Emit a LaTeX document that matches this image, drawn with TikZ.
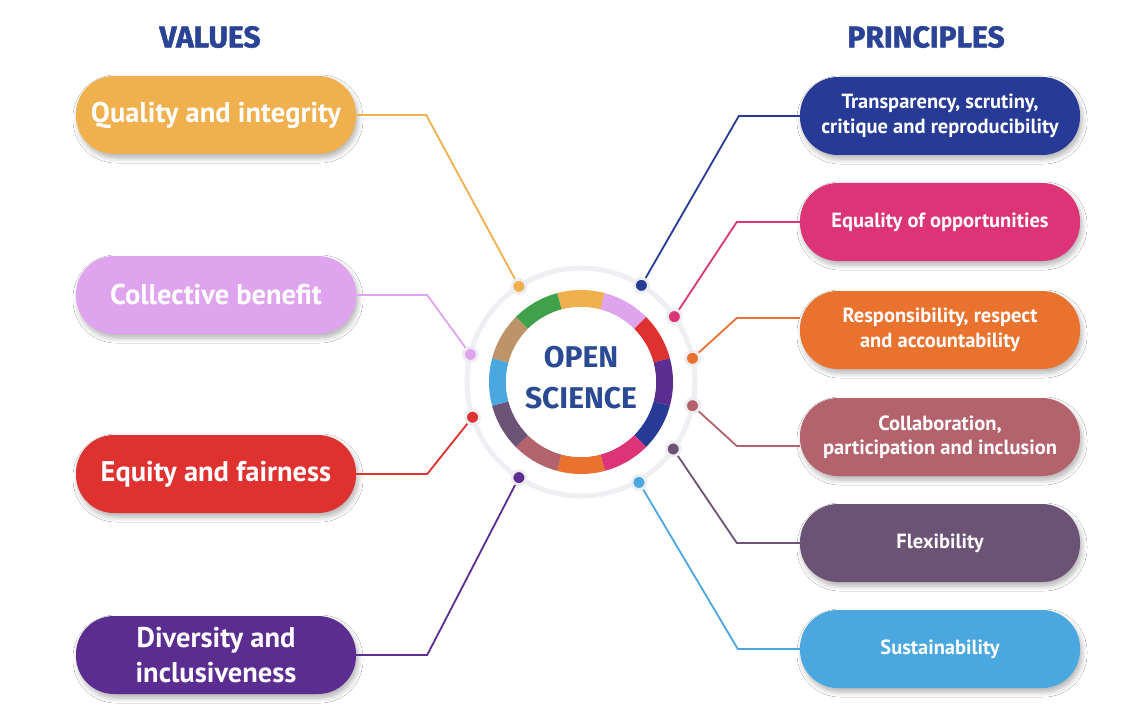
\documentclass[tikz,border=0pt]{standalone}
\usepackage{fontspec}
\setmainfont{PT Sans}
\newfontfamily\headfont{Fira Sans}
\newfontfamily\heavyfont{Fira Sans}[FakeBold=1.6]
\usetikzlibrary{shadows.blur}
\definecolor{cyel}{HTML}{F0B04E}
\definecolor{clil}{HTML}{DEA5EE}
\definecolor{cred}{HTML}{E03131}
\definecolor{cpur}{HTML}{5C2D91}
\definecolor{cdbl}{HTML}{263A96}
\definecolor{cpnk}{HTML}{DD3477}
\definecolor{corg}{HTML}{E9722F}
\definecolor{cmau}{HTML}{B4636D}
\definecolor{cpgr}{HTML}{6C5274}
\definecolor{clbl}{HTML}{4AA7DF}
\definecolor{ctan}{HTML}{BE9368}
\definecolor{cgrn}{HTML}{3FA24B}
\definecolor{headblue}{HTML}{2B4396}
\definecolor{osblue}{HTML}{2A4A94}
\definecolor{haloc}{HTML}{EDEDF1}
\definecolor{ringc}{HTML}{EFEFF3}
\tikzset{
 pill/.style={rectangle, rounded corners=38pt, minimum width=280pt, minimum height=78pt,
   text=white, align=center, inner sep=0pt,
   blur shadow={shadow xshift=2pt, shadow yshift=-4pt, shadow blur steps=6, shadow opacity=30, shadow blur radius=5pt}},
 lbox/.style={pill, font=\fontsize{28.5}{35}\selectfont\bfseries},
 rbox/.style={pill, font=\fontsize{20.5}{24.5}\selectfont\bfseries},
 conn/.style={line width=1.8pt},
 dot/.style={circle, minimum size=14pt, inner sep=0pt, draw=haloc, line width=2.8pt},
 head/.style={font=\heavyfont\fontsize{30}{32}\selectfont\bfseries, text=headblue},
}
\begin{document}
\begin{tikzpicture}[x=1pt,y=1pt]
\useasboundingbox[fill=white] (0,0) rectangle (1124,-722);
\coordinate (C) at (581,-382);
% headings
\node[head] (hv) at (210,-37) {VALUES};
\node[head] (hp) at (926,-37) {PRINCIPLES};
% light ring
\draw[ringc, line width=5pt] (C) circle[radius=114];
% colored ring
\begin{scope}[shift={(581,-382)}]
\foreach \c [count=\i from 0] in {cyel,clil,cred,cpur,cdbl,cpnk,corg,cmau,cpgr,clbl,ctan,cgrn}{
  \pgfmathsetmacro{\a}{90-30*\i}
  \fill[\c] (\a+15:92) arc[start angle=\a+15, end angle=\a-15, radius=92]
     -- (\a-15:75) arc[start angle=\a-15, end angle=\a+15, radius=75] -- cycle;
}
\end{scope}
\fill[white] (C) circle[radius=75];
\node[font=\headfont\bfseries\fontsize{30}{41}\selectfont, text=osblue, align=center] (os) at (581,-378) {OPEN\\SCIENCE};
% dots
\path (C) ++(123:114) node[dot, fill=cyel] (d1) {};
\path (C) ++(166:114) node[dot, fill=clil] (d2) {};
\path (C) ++(198:114) node[dot, fill=cred] (d3) {};
\path (C) ++(237:114) node[dot, fill=cpur] (d4) {};
\path (C) ++(58:114) node[dot, fill=cdbl] (d5) {};
\path (C) ++(35:114) node[dot, fill=cpnk] (d6) {};
\path (C) ++(12:114) node[dot, fill=corg] (d7) {};
\path (C) ++(-12:114) node[dot, fill=cmau] (d8) {};
\path (C) ++(-36:114) node[dot, fill=cpgr] (d9) {};
\path (C) ++(-60:116) node[dot, fill=clbl] (d10) {};
% left boxes
\node[lbox, fill=cyel] (vq) at (216,-115) {Quality and integrity};
\node[lbox, fill=clil] (vc) at (216,-295) {Collective benefit};
\node[lbox, fill=cred] (ve) at (216,-474) {Equity and fairness};
\node[lbox, fill=cpur] (vd) at (216,-655) {Diversity and\\inclusiveness};
% right boxes
\node[rbox, fill=cdbl] (pt) at (940,-116) {Transparency, scrutiny,\\critique and reproducibility};
\node[rbox, fill=cpnk] (pe) at (940,-222) {Equality of opportunities};
\node[rbox, fill=corg] (pr) at (940,-330) {Responsibility, respect\\and accountability};
\node[rbox, fill=cmau] (pc) at (940,-437) {Collaboration,\\participation and inclusion};
\node[rbox, fill=cpgr] (pf) at (940,-543) {Flexibility};
\node[rbox, fill=clbl] (ps) at (940,-649) {Sustainability};
% connectors left
\draw[conn, cyel] (vq.east) -- ++(70,0) -- (d1);
\draw[conn, clil] (vc.east) -- ++(71,0) -- (d2);
\draw[conn, cred] (ve.east) -- ++(71,0) -- (d3);
\draw[conn, cpur] (vd.east) -- ++(71,0) -- (d4);
% connectors right
\draw[conn, cdbl] (pt.west) -- ++(-61,0) -- (d5);
\draw[conn, cpnk] (pe.west) -- ++(-63,0) -- (d6);
\draw[conn, corg] ([yshift=12pt]pr.west) -- ++(-63,0) -- (d7);
\draw[conn, cmau] ([yshift=-9pt]pc.west) -- ++(-63,0) -- (d8);
\draw[conn, cpgr] (pf.west) -- ++(-63,0) -- (d9);
\draw[conn, clbl] (ps.west) -- ++(-62,0) -- (d10);
\end{tikzpicture}
\end{document}
